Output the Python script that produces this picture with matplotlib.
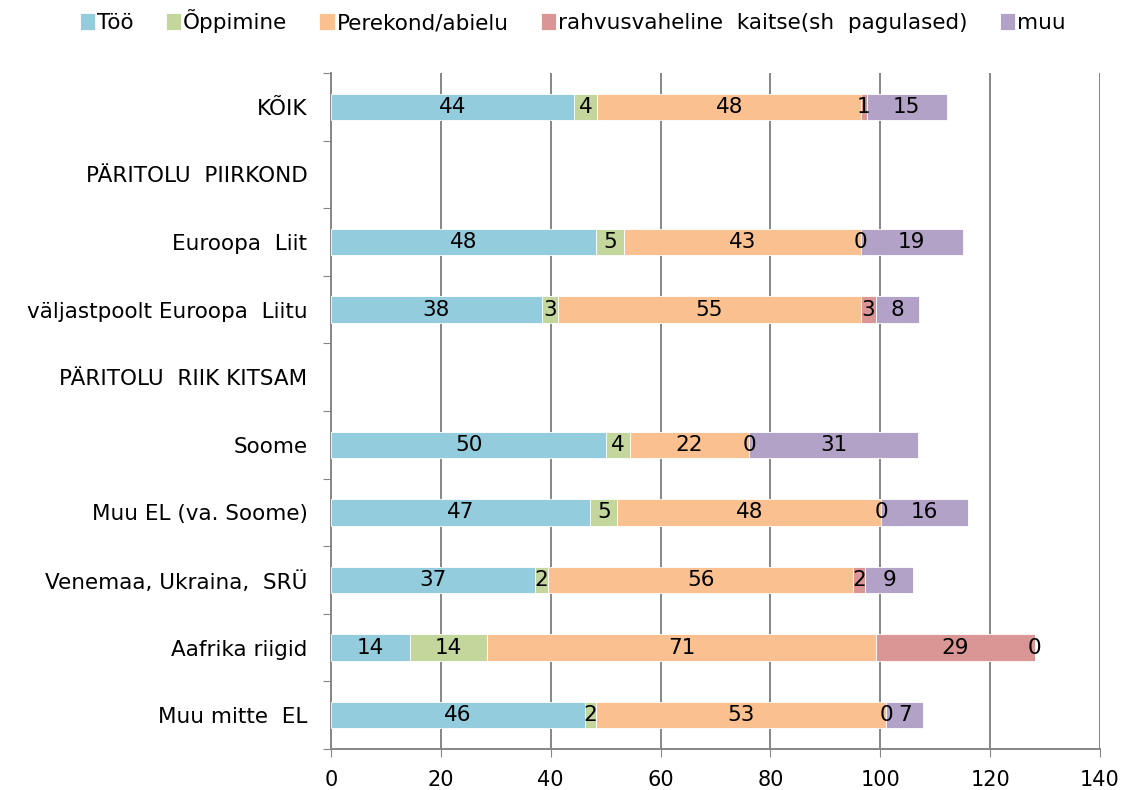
import numpy as np
import matplotlib
matplotlib.use("Agg")
import matplotlib.pyplot as plt

# data (empty rows = section headers)
categories = ["KÕIK", "PÄRITOLU  PIIRKOND", "Euroopa  Liit", "väljastpoolt Euroopa  Liitu",
              "PÄRITOLU  RIIK KITSAM", "Soome", "Muu EL (va. Soome)",
              "Venemaa, Ukraina,  SRÜ", "Aafrika riigid", "Muu mitte  EL"]
too = [44.3, np.nan, 48.2, 38.4, np.nan, 50.1, 47.2, 37.2, 14.4, 46.3]
oppimine = [4.2, np.nan, 5.1, 2.9, np.nan, 4.3, 4.9, 2.3, 14.0, 1.9]
perekond = [48.0, np.nan, 43.1, 55.1, np.nan, 21.7, 48.1, 55.6, 70.9, 52.9]
kaitse = [1.0, np.nan, 0.0, 2.9, np.nan, 0.0, 0.0, 2.2, 28.8, 0.0]
muu = [14.6, np.nan, 18.7, 7.8, np.nan, 30.8, 15.8, 8.7, 0.0, 6.7]

series_names = ["Töö", "Õppimine", "Perekond/abielu", "rahvusvaheline  kaitse(sh  pagulased)", "muu"]
colors = ["#93CDDD", "#C3D69B", "#FAC090", "#D99694", "#B3A2C7"]

plt.rcParams["font.family"] = ["DejaVu Sans"]

fig = plt.figure(figsize=(11.23, 7.9), dpi=100)
ax = fig.add_axes([331 / 1123, 1 - 749 / 790, (1100 - 331) / 1123, (749 - 73) / 790])

y = np.arange(len(categories))
left = np.zeros(len(categories))
for name, vals, col in zip(series_names, [too, oppimine, perekond, kaitse, muu], colors):
    vals = np.array(vals, dtype=float)
    ok = ~np.isnan(vals)
    ax.barh(y[ok], vals[ok], left=left[ok], height=0.39, color=col,
            edgecolor="white", linewidth=0.6, label=name, zorder=3)
    for yi, v, l in zip(y[ok], vals[ok], left[ok]):
        ax.text(l + v / 2, yi, f"{int(round(v))}", ha="center", va="center",
                fontsize=15.5, color="black", zorder=4)
    left[ok] = left[ok] + vals[ok]

ax.set_ylim(len(categories) - 0.5, -0.5)
ax.set_xlim(0, 140)
ax.set_xticks(np.arange(0, 141, 20))
ax.set_yticks(np.arange(len(categories) + 1) - 0.5, minor=False)
ax.set_yticklabels([])
ax.set_yticks(y, minor=True)
ax.set_yticklabels(categories, minor=True)
ax.tick_params(axis="y", which="minor", length=0, pad=17, labelsize=15.5)
ax.tick_params(axis="y", which="major", length=6, color="#868686", direction="out")
ax.tick_params(axis="x", length=6, color="#868686", direction="out", labelsize=15, pad=9)

ax.grid(axis="x", color="#868686", linewidth=1.4, zorder=0)
for side in ["top", "right"]:
    ax.spines[side].set_visible(False)
for side in ["left", "bottom"]:
    ax.spines[side].set_color("#868686")
    ax.spines[side].set_linewidth(1.4)

fig.legend(loc="upper center", bbox_to_anchor=(0.51, 1.013), ncol=5, frameon=False,
           fontsize=15.5, handlelength=0.7, handleheight=0.8, handletextpad=0.1,
           columnspacing=1.5)

fig.savefig("out.png", dpi=100)
